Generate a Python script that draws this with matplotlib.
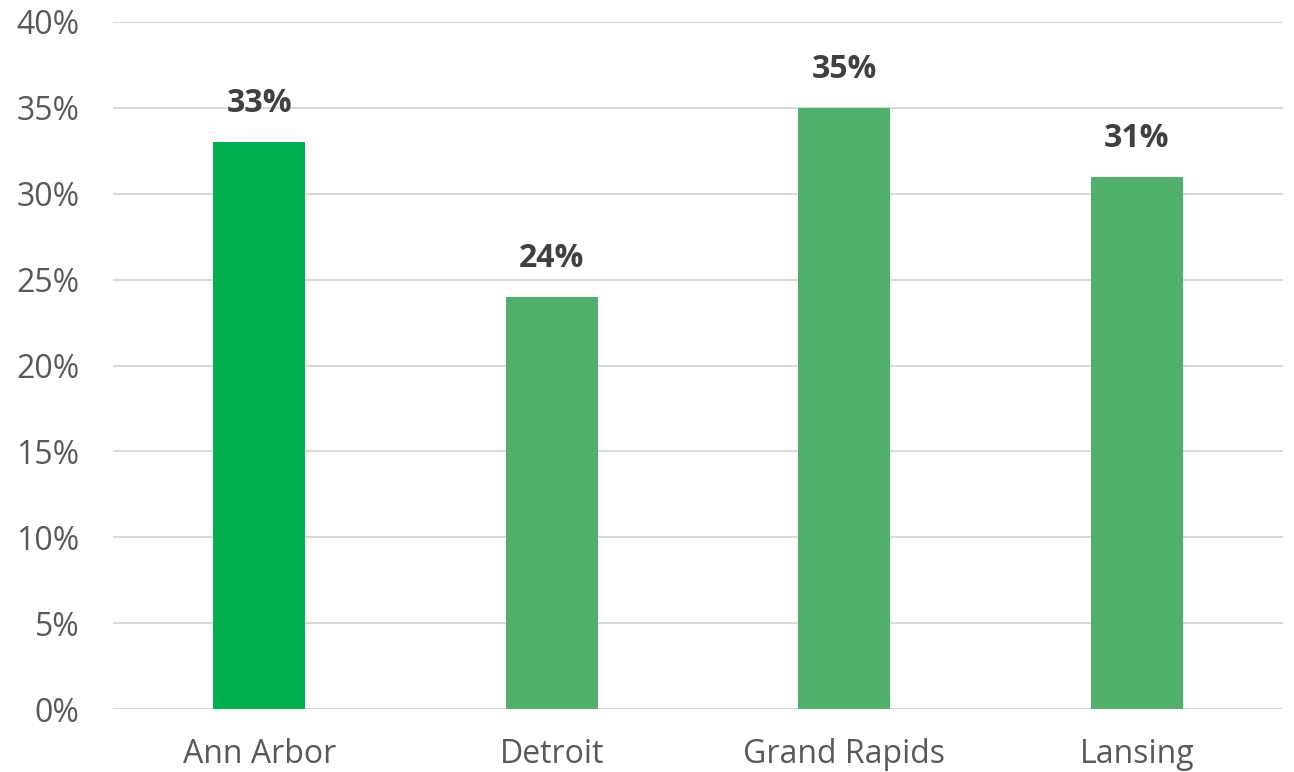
import numpy as np
import matplotlib.pyplot as plt
from matplotlib.ticker import PercentFormatter

plt.rcParams['font.family'] = ['Open Sans', 'DejaVu Sans']

# data
cities = ["Ann Arbor", "Detroit", "Grand Rapids", "Lansing"]
shares = [33, 24, 35, 31]
bar_colors = ["#00B050", "#4FAF6B", "#4FAF6B", "#4FAF6B"]
y_ticks = [0, 5, 10, 15, 20, 25, 30, 35, 40]

fig = plt.figure(figsize=(12.94, 7.72), dpi=100)
ax = fig.add_axes([113/1294, 63/772, 1170/1294, 687/772])

x = np.arange(len(cities))
bars = ax.bar(x, shares, width=0.315, color=bar_colors, zorder=3)

for b, v in zip(bars, shares):
    ax.text(b.get_x() + b.get_width()/2, v + 1.75, f"{v}%",
            ha='center', va='baseline', fontsize=23, fontweight='bold',
            color='#404040')

ax.set_xlim(-0.5, len(cities) - 0.5)
ax.set_ylim(0, 40)
ax.set_yticks(y_ticks)
ax.yaxis.set_major_formatter(PercentFormatter(decimals=0))
ax.set_xticks(x)
ax.set_xticklabels(cities)

ax.grid(axis='y', color='#d9d9d9', linewidth=1.5, zorder=0)
for s in ax.spines.values():
    s.set_visible(False)
ax.tick_params(axis='both', length=0, labelsize=23, colors='#595959')
ax.tick_params(axis='y', pad=24)
ax.tick_params(axis='x', pad=21)
for lbl in ax.get_yticklabels():
    lbl.set_horizontalalignment('right')

fig.savefig("out.png", dpi=100)
